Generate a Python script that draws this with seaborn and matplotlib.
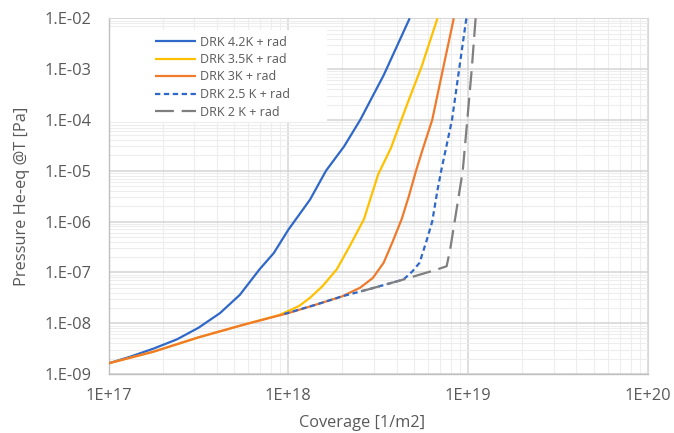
import numpy as np
import pandas as pd
import matplotlib
matplotlib.use("Agg")
import matplotlib.pyplot as plt
import seaborn as sns
from matplotlib.patches import Rectangle

# ---------------- data ----------------
x_42 = [1.0e17, 1.32e17, 1.78e17, 2.40e17, 3.16e17, 4.17e17, 5.37e17, 6.92e17,
        8.30e17, 1.0e18, 1.32e18, 1.62e18, 2.04e18, 2.51e18, 3.39e18, 4.73e18]
p_42 = [1.62e-9, 2.19e-9, 3.16e-9, 4.8e-9, 8.1e-9, 1.58e-8, 3.6e-8, 1.15e-7,
        2.4e-7, 6.9e-7, 2.7e-6, 1.0e-5, 3.0e-5, 1.0e-4, 7.6e-4, 1.0e-2]

x_35 = [1.0e17, 1.78e17, 3.16e17, 5.62e17, 8.9e17, 1.0e18, 1.15e18, 1.32e18,
        1.55e18, 1.86e18, 2.19e18, 2.63e18, 3.16e18, 3.72e18, 4.57e18, 5.5e18, 6.75e18]
p_35 = [1.62e-9, 2.75e-9, 5.25e-9, 9.3e-9, 1.45e-8, 1.74e-8, 2.19e-8, 3.16e-8,
        5.37e-8, 1.15e-7, 3.24e-7, 1.1e-6, 8.5e-6, 2.8e-5, 2.0e-4, 1.1e-3, 1.0e-2]

x_30 = [1.0e17, 1.78e17, 3.16e17, 5.62e17, 1.0e18, 1.41e18, 2.0e18, 2.51e18,
        2.95e18, 3.39e18, 3.80e18, 4.27e18, 4.68e18, 5.13e18, 5.62e18, 6.31e18,
        7.24e18, 8.32e18]
p_30 = [1.62e-9, 2.75e-9, 5.25e-9, 9.3e-9, 1.58e-8, 2.29e-8, 3.39e-8, 5.0e-8,
        7.76e-8, 1.55e-7, 4.0e-7, 1.12e-6, 3.16e-6, 1.0e-5, 2.82e-5, 1.0e-4,
        1.0e-3, 1.0e-2]

x_25 = [9.5e17, 1.41e18, 2.0e18, 2.82e18, 4.37e18, 4.90e18, 5.37e18, 5.89e18,
        6.31e18, 6.76e18, 7.08e18, 8.13e18, 8.91e18, 9.77e18]
p_25 = [1.52e-8, 2.29e-8, 3.39e-8, 4.68e-8, 7.24e-8, 1.05e-7, 1.55e-7, 4.37e-7,
        1.0e-6, 4.27e-6, 1.0e-5, 1.0e-4, 1.0e-3, 1.0e-2]

x_20 = [2.55e18, 2.82e18, 4.37e18, 6.61e18, 7.59e18, 7.94e18, 8.41e18, 9.33e18,
        9.89e18, 1.047e19, 1.10e19]
p_20 = [4.27e-8, 4.68e-8, 7.24e-8, 1.12e-7, 1.32e-7, 2.82e-7, 1.0e-6, 1.0e-5,
        1.0e-4, 1.0e-3, 1.0e-2]

series_names = ["DRK 4.2K + rad", "DRK 3.5K + rad", "DRK 3K + rad",
                "DRK 2.5 K + rad", "DRK 2 K + rad"]

x_ticks = [1e17, 1e18, 1e19, 1e20]
x_ticklabels = ["1E+17", "1E+18", "1E+19", "1E+20"]
y_ticks = [1e-9, 1e-8, 1e-7, 1e-6, 1e-5, 1e-4, 1e-3, 1e-2]
y_ticklabels = ["1.E-09", "1.E-08", "1.E-07", "1.E-06", "1.E-05",
                "1.E-04", "1.E-03", "1.E-02"]

x_label = "Coverage [1/m2]"
y_label = "Pressure He-eq @T [Pa]"

# ---------------- styling ----------------
sns.set_theme(style="white")
plt.rcParams["font.family"] = ["Open Sans", "DejaVu Sans"]
text_color = "#595959"

colors = ["#2F68C8", "#FFC000", "#F07A2C", "#2F68C8", "#7F7F7F"]
dash_styles = [(0, ()), (0, ()), (0, ()), (0, (2.4, 1.6)), (0, (8.5, 3.5))]

fig = plt.figure(figsize=(6.74, 4.33), dpi=100)
W, H = 674, 433
left, right, top, bottom = 108.5, 648, 18.3, 374
ax = fig.add_axes([left / W, 1 - bottom / H, (right - left) / W, (bottom - top) / H])

xs = [x_42, x_35, x_30, x_25, x_20]
ps = [p_42, p_35, p_30, p_25, p_20]
for xv, pv, name, c, ds in zip(xs, ps, series_names, colors, dash_styles):
    df = pd.DataFrame({"coverage": xv, "pressure": pv})
    sns.lineplot(data=df, x="coverage", y="pressure", ax=ax, color=c,
                 linewidth=1.6, linestyle=ds, label=name, estimator=None,
                 sort=False, zorder=3)

ax.set_xscale("log")
ax.set_yscale("log")
ax.set_xlim(1e17, 1e20)
ax.set_ylim(1e-9, 1e-2)

ax.set_xticks(x_ticks)
ax.set_xticklabels(x_ticklabels)
ax.set_yticks(y_ticks)
ax.set_yticklabels(y_ticklabels)
ax.xaxis.set_minor_locator(matplotlib.ticker.LogLocator(base=10, subs=np.arange(2, 10), numticks=20))
ax.yaxis.set_minor_locator(matplotlib.ticker.LogLocator(base=10, subs=np.arange(2, 10), numticks=20))
ax.xaxis.set_minor_formatter(matplotlib.ticker.NullFormatter())
ax.yaxis.set_minor_formatter(matplotlib.ticker.NullFormatter())

ax.grid(True, which="major", color="#D4D4D4", linewidth=1.1, zorder=0)
ax.grid(True, which="minor", color="#EDEDED", linewidth=0.8, zorder=0)
ax.set_axisbelow(True)

ax.tick_params(axis="both", which="both", length=0, colors=text_color,
               labelsize=11.8)
ax.tick_params(axis="y", pad=12.5)
ax.tick_params(axis="x", pad=10)

for s in ["top", "right"]:
    ax.spines[s].set_color("#D9D9D9")
    ax.spines[s].set_linewidth(0.8)
for s in ["left", "bottom"]:
    ax.spines[s].set_color("#BFBFBF")
    ax.spines[s].set_linewidth(1.0)

ax.set_xlabel(x_label, fontsize=11.8, color=text_color)
ax.set_ylabel(y_label, fontsize=11.8, color=text_color)
ax.xaxis.set_label_coords((362.5 - left) / (right - left), -(423 - bottom) / (bottom - top))
ax.yaxis.set_label_coords(-(left - 22) / (right - left), (bottom - 196) / (bottom - top))
ax.xaxis.label.set_va("center")
ax.yaxis.label.set_va("center")

# white legend backdrop (Excel style legend area)
bx0, bx1, by0, by1 = 110, 327, 30, 122
ax.add_patch(Rectangle(((bx0 - left) / (right - left), (bottom - by1) / (bottom - top)),
                       (bx1 - bx0) / (right - left), (by1 - by0) / (bottom - top),
                       transform=ax.transAxes, facecolor="white", edgecolor="none",
                       zorder=1))

leg = ax.legend(loc="upper left",
                bbox_to_anchor=((155 - left) / (right - left), (bottom - 35.5) / (bottom - top)),
                frameon=False, fontsize=9, handlelength=3.3, handletextpad=0.3,
                labelspacing=0.36, borderpad=0, borderaxespad=0)
for t in leg.get_texts():
    t.set_color(text_color)

fig.savefig("out.png", dpi=100, facecolor="white")
